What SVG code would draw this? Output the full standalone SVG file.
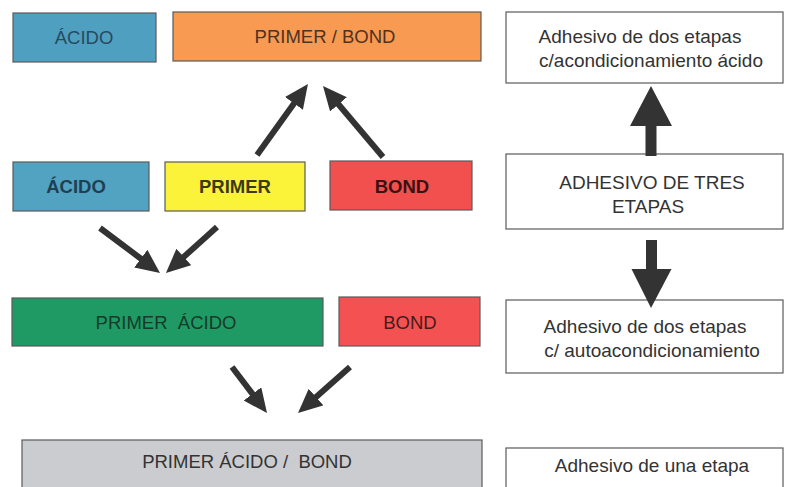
<svg xmlns="http://www.w3.org/2000/svg" width="785" height="487" viewBox="0 0 785 487">
<defs>
<style>
.box{stroke:#5a5a5a;stroke-width:1.2}
.t{font-family:"Liberation Sans",Arial,sans-serif;font-size:18.5px;text-anchor:middle}
.b{font-weight:bold}
.r{font-family:"Liberation Sans",Arial,sans-serif;font-size:19px;text-anchor:middle;fill:#333}
.arr{stroke:#333;stroke-width:6;fill:none;marker-end:url(#ah)}
.blk{fill:#333}
</style>
<marker id="ah" markerUnits="userSpaceOnUse" markerWidth="26" markerHeight="24" refX="4" refY="11" orient="auto">
<path d="M0,0 L24,11 L0,22 z" fill="#333"/>
</marker>
</defs>
<rect width="785" height="487" fill="#fff"/>

<g id="acido1"><rect class="box" x="13" y="13" width="143" height="49" fill="#4fa0c0"/><text class="t" x="84" y="44" fill="#274a5e">ÁCIDO</text></g>
<g id="primerbond"><rect class="box" x="173" y="12" width="308" height="49" fill="#f89a52"/><text class="t" x="325" y="43" fill="#4e3322">PRIMER / BOND</text></g>

<g id="acido2"><rect class="box" x="13" y="162" width="136" height="49" fill="#52a3c1"/><text class="t b" x="76" y="193" fill="#1f3f52">ÁCIDO</text></g>
<g id="primer"><rect class="box" x="165" y="162" width="140" height="49" fill="#fbf23a"/><text class="t b" x="235" y="193" fill="#3a3a14">PRIMER</text></g>
<g id="bond1"><rect class="box" x="330" y="161" width="142" height="49" fill="#f24f4f"/><text class="t b" x="402" y="193" fill="#3a1212">BOND</text></g>

<g id="primeracido"><rect class="box" x="12" y="298" width="311" height="48" fill="#1f9a64"/><text class="t" x="166" y="329" fill="#173a2a">PRIMER&#160; ÁCIDO</text></g>
<g id="bond2"><rect class="box" x="339" y="297" width="141" height="49" fill="#f45252"/><text class="t" x="410" y="329" fill="#4a1a1a">BOND</text></g>

<g id="primeracidobond"><rect class="box" x="22" y="440" width="460" height="60" fill="#cbcccf"/><text class="t" x="247" y="468" fill="#333">PRIMER ÁCIDO /&#160; BOND</text></g>

<g id="dos1"><rect class="box" x="506" y="12" width="277" height="71" fill="#fff"/><text class="r" x="640" y="43">Adhesivo de dos etapas</text><text class="r" x="651" y="67">c/acondicionamiento ácido</text></g>
<g id="tres"><rect class="box" x="506" y="154" width="277" height="75" fill="#fff"/><text class="r" x="652" y="189">ADHESIVO DE TRES</text><text class="r" x="648" y="213">ETAPAS</text></g>
<g id="dos2"><rect class="box" x="506" y="300" width="277" height="73" fill="#fff"/><text class="r" x="645" y="333">Adhesivo de dos etapas</text><text class="r" x="652" y="357">c/ autoacondicionamiento</text></g>
<g id="una"><rect class="box" x="506" y="448" width="277" height="60" fill="#fff"/><text class="r" x="652" y="472">Adhesivo de una etapa</text></g>

<g id="connectors">
<line class="arr" x1="257" y1="155" x2="296.3" y2="100.2"/>
<line class="arr" x1="383" y1="157" x2="335.9" y2="101.3"/>
<line class="arr" x1="100" y1="228" x2="144" y2="261"/>
<line class="arr" x1="217" y1="227" x2="180.8" y2="259.6"/>
<line class="arr" x1="232" y1="367" x2="254.9" y2="397.1"/>
<line class="arr" x1="350" y1="367" x2="313" y2="399.7"/>
<polygon class="blk" points="645.5,156 645.5,126 630,126 651,86 672,126 656.5,126 656.5,156"/>
<polygon class="blk" points="646,240 657,240 657,269 671.5,269 651,308 631.5,269 646,269"/>
</g>
</svg>
